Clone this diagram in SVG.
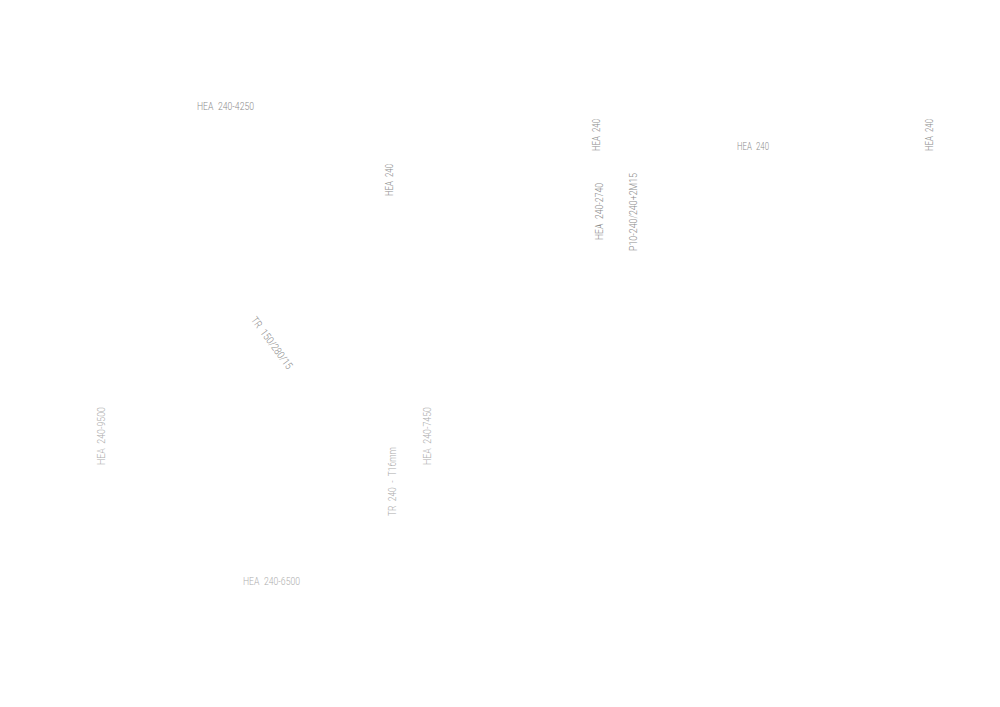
<svg xmlns="http://www.w3.org/2000/svg" width="1000" height="707" viewBox="0 0 1000 707">
<style>
text{font-family:"Roboto","Liberation Sans",Arial,sans-serif;font-size:10.500px;fill:#8c8c8c;font-weight:300;word-spacing:3px}
.f{fill:#adadad}
</style>
<rect width="1000" height="707" fill="#fff"/>
<g id="label-hea-4250"><text x="197" y="110" textLength="57" lengthAdjust="spacingAndGlyphs">HEA 240-4250</text></g>
<g id="label-hea-mid"><text transform="translate(393 196) rotate(-90)" textLength="32" lengthAdjust="spacingAndGlyphs">HEA 240</text></g>
<g id="label-hea-top"><text transform="translate(600 151) rotate(-90)" textLength="32" lengthAdjust="spacingAndGlyphs">HEA 240</text></g>
<g id="label-hea-2740"><text transform="translate(603 240) rotate(-90)" textLength="57" lengthAdjust="spacingAndGlyphs">HEA 240-2740</text></g>
<g id="label-p10"><text transform="translate(637 251) rotate(-90)" textLength="78" lengthAdjust="spacingAndGlyphs">P10-240/240+2M15</text></g>
<g id="label-hea-h"><text x="737" y="150" textLength="32" lengthAdjust="spacingAndGlyphs">HEA 240</text></g>
<g id="label-hea-right"><text transform="translate(933 151) rotate(-90)" textLength="32" lengthAdjust="spacingAndGlyphs">HEA 240</text></g>
<g id="label-tr-150"><text transform="translate(250.500 320) rotate(53.500)" textLength="62" lengthAdjust="spacingAndGlyphs">TR 150/280/15</text></g>
<g id="label-hea-9500"><text class="f" transform="translate(105 465) rotate(-90)" textLength="58" lengthAdjust="spacingAndGlyphs">HEA 240-9500</text></g>
<g id="label-tr-240"><text class="f" transform="translate(396 516) rotate(-90)" textLength="69" lengthAdjust="spacingAndGlyphs">TR 240 - T16mm</text></g>
<g id="label-hea-7450"><text class="f" transform="translate(431 465) rotate(-90)" textLength="58" lengthAdjust="spacingAndGlyphs">HEA 240-7450</text></g>
<g id="label-hea-6500"><text class="f" x="243" y="585" textLength="57" lengthAdjust="spacingAndGlyphs">HEA 240-6500</text></g>
</svg>
